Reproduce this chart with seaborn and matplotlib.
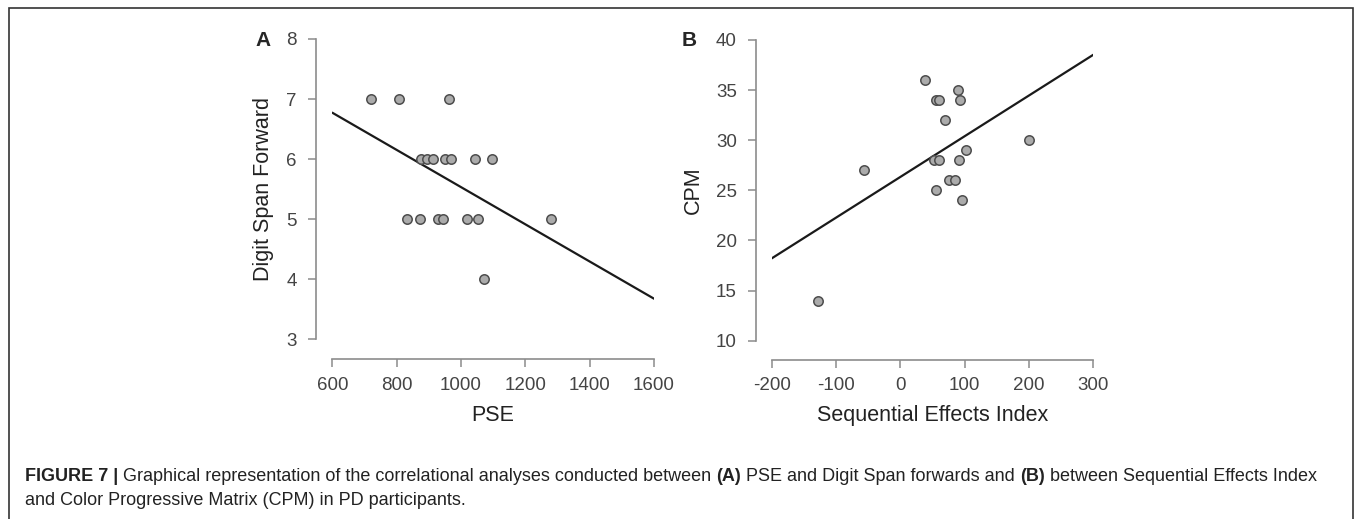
import seaborn as sns
import matplotlib.pyplot as plt
from matplotlib.patches import Rectangle
import pandas as pd

# panel A: PSE vs Digit Span Forward
pse = [720, 808, 962,
       876, 893, 912, 950, 968, 1044, 1096,
       832, 874, 930, 943, 1018, 1052, 1279,
       1073]
digit_span = [7, 7, 7,
              6, 6, 6, 6, 6, 6, 6,
              5, 5, 5, 5, 5, 5, 5,
              4]

# panel B: Sequential Effects Index vs CPM
seq_index = [38, 90, 56, 60.5, 93, 70, 200, 101.5, 53, 60.5, 91, -57, 76, 85, 55, 96, -128.5]
cpm = [36, 35, 34, 34, 34, 32, 30, 29, 28, 28, 28, 27, 26, 26, 25, 24, 14]

a_xticks = [600, 800, 1000, 1200, 1400, 1600]
a_yticks = [3, 4, 5, 6, 7, 8]
b_xticks = [-200, -100, 0, 100, 200, 300]
b_yticks = [10, 15, 20, 25, 30, 35, 40]

caption1 = [("FIGURE 7 |", "bold"),
            (" Graphical representation of the correlational analyses conducted between ", "normal"),
            ("(A)", "bold"),
            (" PSE and Digit Span forwards and ", "normal"),
            ("(B)", "bold"),
            (" between Sequential Effects Index", "normal")]
caption2 = "and Color Progressive Matrix (CPM) in PD participants."

sns.set_style("ticks")
plt.rcParams['font.family'] = ['Liberation Sans', 'DejaVu Sans']
plt.rcParams['axes.unicode_minus'] = False

df_a = pd.DataFrame({"PSE": pse, "Digit Span Forward": digit_span})
df_b = pd.DataFrame({"Sequential Effects Index": seq_index, "CPM": cpm})

W, H = 1355, 519
fig = plt.figure(figsize=(W / 100, H / 100), dpi=100)
ax_a = fig.add_axes([332.3 / W, 1 - 339.3 / H, 321.7 / W, 300.3 / H])
ax_b = fig.add_axes([771.7 / W, 1 - 340.7 / H, 321.6 / W, 300.7 / H])

scatter_kws = dict(s=46, facecolor="#ababab", edgecolor="#4d4d4d", linewidths=1.1, alpha=1, zorder=3)
line_kws = dict(color="#1a1a1a", lw=1.6, zorder=2)

panels = [
    (ax_a, df_a, "PSE", "Digit Span Forward", a_xticks, a_yticks, 16.6, 20.0),
    (ax_b, df_b, "Sequential Effects Index", "CPM", b_xticks, b_yticks, 16.0, 19.3),
]
for ax, df, xcol, ycol, xt, yt, off_l, off_b in panels:
    ax.set_xlim(xt[0], xt[-1])
    ax.set_ylim(yt[0], yt[-1])
    sns.regplot(data=df, x=xcol, y=ycol, ax=ax, ci=None, truncate=False,
                scatter_kws=scatter_kws, line_kws=line_kws)
    ax.set_xlim(xt[0], xt[-1])
    ax.set_ylim(yt[0], yt[-1])
    ax.set_xticks(xt)
    ax.set_yticks(yt)
    for side in ["top", "right"]:
        ax.spines[side].set_visible(False)
    ax.spines["left"].set_position(("outward", off_l * 0.72))
    ax.spines["bottom"].set_position(("outward", off_b * 0.72))
    ax.spines["left"].set_bounds(yt[0], yt[-1])
    ax.spines["bottom"].set_bounds(xt[0], xt[-1])
    for sp in ["left", "bottom"]:
        ax.spines[sp].set_color("#8c8c8c")
        ax.spines[sp].set_linewidth(1.2)
    ax.tick_params(length=5.5, width=1.1, color="#8c8c8c", labelcolor="#444444",
                   labelsize=13.5)
    ax.tick_params(axis="x", pad=7)
    ax.tick_params(axis="y", pad=8)
    ax.set_xlabel(xcol, fontsize=15.5, color="#222222", labelpad=8)
    ax.set_ylabel(ycol, fontsize=15.5, color="#222222", labelpad=9)
    ax.patch.set_visible(False)

fig.text(263 / W, 1 - 40 / H, "A", fontsize=15, fontweight="bold", ha="center", va="center")
fig.text(689 / W, 1 - 40 / H, "B", fontsize=15, fontweight="bold", ha="center", va="center")

# caption with mixed weights
renderer = fig.canvas.get_renderer()
x = 25
y1 = 1 - 481 / H
for txt, wt in caption1:
    t = fig.text(x / W, y1, txt, fontsize=13, fontweight=wt, color="#222222",
                 ha="left", va="baseline")
    x += t.get_window_extent(renderer).width
fig.text(25 / W, 1 - 505 / H, caption2, fontsize=13, color="#222222", ha="left", va="baseline")

# frame around figure
fig.add_artist(Rectangle((9 / W, -0.05), (1353 - 9) / W, 1.05 - 8.3 / H,
                         transform=fig.transFigure, fill=False, edgecolor="#333333", lw=1.2))

fig.savefig("out.png", dpi=100)
